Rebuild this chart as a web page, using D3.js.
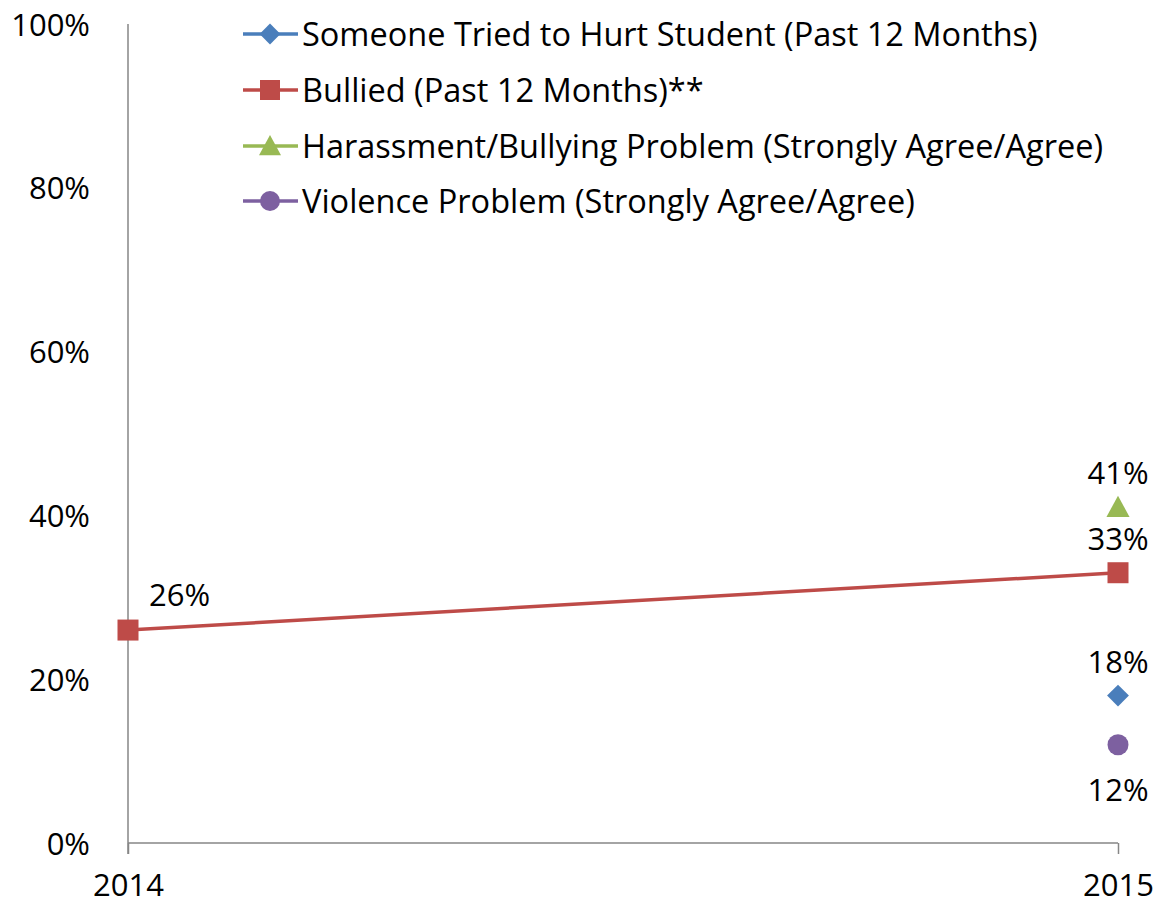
<!DOCTYPE html>
<html><head>
<meta charset="utf-8">
<script src="https://d3js.org/d3.v7.min.js"></script>
<style>
  body { margin: 0; background: white; }
  text { font-family: 'Open Sans', sans-serif; fill: #000; }
  .tick text { font-size: 31px; }
</style>
</head>
<body>
<svg id="chart" width="1157" height="906"></svg>
<script>
const years = ["2014", "2015"];
const yTicks = [0, 0.2, 0.4, 0.6, 0.8, 1.0];

const seriesNames = [
  "Someone Tried to Hurt Student (Past 12 Months)",
  "Bullied (Past 12 Months)**",
  "Harassment/Bullying Problem (Strongly Agree/Agree)",
  "Violence Problem (Strongly Agree/Agree)"
];
const seriesColors = ["#4A7EBB", "#BE4B48", "#98B954", "#7D60A0"];
const seriesShapes = ["diamond", "square", "triangle", "circle"];
// values per year, null = missing
const hurtValues = [null, 0.18];
const bulliedValues = [0.26, 0.33];
const harassValues = [null, 0.41];
const violenceValues = [null, 0.12];
const seriesValues = [hurtValues, bulliedValues, harassValues, violenceValues];
// where the data label sits relative to the point
const labelPos = [
  ["none", "above"],
  ["aboveRight", "above"],
  ["none", "above"],
  ["none", "below"]
];

const svg = d3.select("#chart");
const x = d3.scalePoint().domain(years).range([128, 1118]);
const y = d3.scaleLinear().domain([0, 1]).range([843, 24]);

// y axis
const yAxis = d3.axisLeft(y).tickValues(yTicks).tickFormat(d3.format(".0%")).tickSize(0).tickPadding(38);
const yg = svg.append("g").attr("transform", `translate(${x("2014")},0)`).call(yAxis);
yg.select(".domain").attr("stroke", "#868686").attr("stroke-width", 1.5)
  .attr("d", `M0,${y(1)}V${y(0) + 11}`);
yg.selectAll(".tick text").attr("dy", "0.36em");

// x axis
const xAxis = d3.axisBottom(x).tickSize(11).tickPadding(20);
const xg = svg.append("g").attr("transform", `translate(0,${y(0)})`).call(xAxis);
xg.select(".domain").attr("stroke", "#868686").attr("stroke-width", 1.5)
  .attr("d", `M${x("2014")},0H${x("2015")}`);
xg.selectAll(".tick line").attr("stroke", "#868686").attr("stroke-width", 1.5);

function marker(g, shape, color, size) {
  if (shape === "square") {
    g.append("rect").attr("x", -size / 2).attr("y", -size / 2).attr("width", size).attr("height", size).attr("fill", color);
  } else if (shape === "diamond") {
    const s = size * 0.52;
    g.append("path").attr("d", `M0,${-s}L${s},0L0,${s}L${-s},0Z`).attr("fill", color);
  } else if (shape === "triangle") {
    const s = size * 0.55;
    g.append("path").attr("d", `M0,${-s}L${s},${s * 0.85}L${-s},${s * 0.85}Z`).attr("fill", color);
  } else {
    g.append("circle").attr("r", size / 2).attr("fill", color);
  }
}

// lines
const line = d3.line().defined(d => d.v !== null).x(d => x(d.year)).y(d => y(d.v));
seriesValues.forEach((vals, i) => {
  const pts = vals.map((v, j) => ({year: years[j], v: v}));
  svg.append("path").datum(pts).attr("d", line)
    .attr("fill", "none").attr("stroke", seriesColors[i]).attr("stroke-width", 3.5);
});

// markers and labels
seriesValues.forEach((vals, i) => {
  vals.forEach((v, j) => {
    if (v === null) return;
    const cx = x(years[j]), cy = y(v);
    const g = svg.append("g").attr("transform", `translate(${cx},${cy})`);
    marker(g, seriesShapes[i], seriesColors[i], 21);
    const pos = labelPos[i][j];
    const t = svg.append("text").attr("font-size", 31).text(d3.format(".0%")(v));
    if (pos === "above") {
      t.attr("x", cx).attr("y", cy - 23).attr("text-anchor", "middle");
    } else if (pos === "below") {
      t.attr("x", cx).attr("y", cy + 56).attr("text-anchor", "middle");
    } else if (pos === "aboveRight") {
      t.attr("x", cx + 21).attr("y", cy - 24).attr("text-anchor", "start");
    }
  });
});

// legend
const legendY = [34, 90, 146, 201];
seriesNames.forEach((name, i) => {
  const g = svg.append("g").attr("transform", `translate(243,${legendY[i]})`);
  g.append("line").attr("x1", 0).attr("x2", 55).attr("stroke", seriesColors[i]).attr("stroke-width", 3.5);
  const m = g.append("g").attr("transform", "translate(27,0)");
  marker(m, seriesShapes[i], seriesColors[i], 20);
  g.append("text").attr("x", 59).attr("dy", "0.36em").attr("font-size", 32.5).text(name);
});
</script>
</body>
</html>
